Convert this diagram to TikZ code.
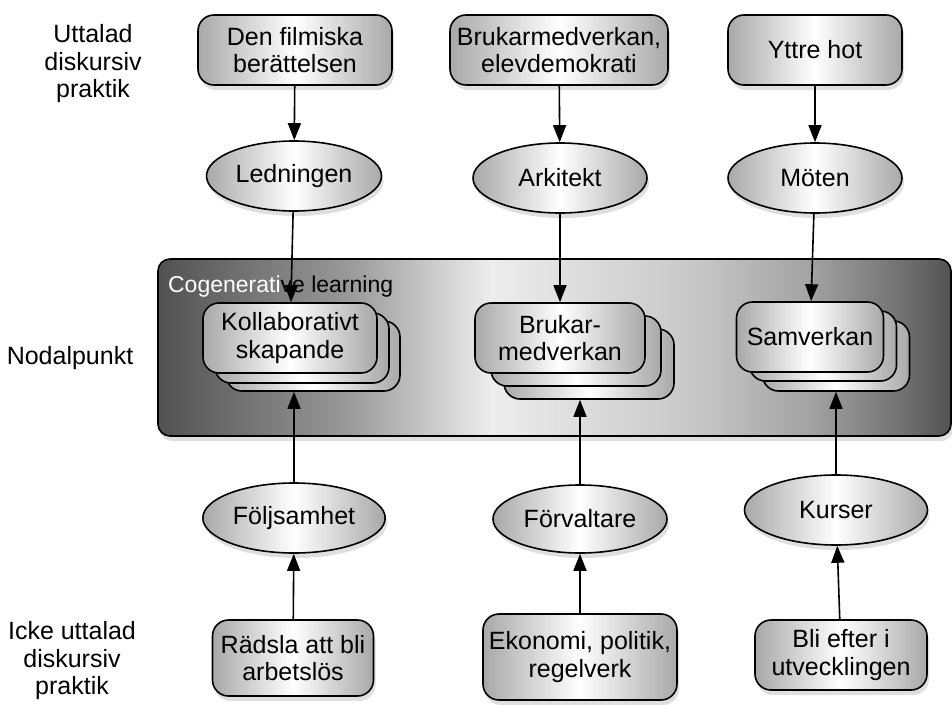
\documentclass[tikz,border=0pt]{standalone}
\usepackage{fontspec}
\setmainfont{Liberation Sans}
\usetikzlibrary{arrows.meta,shapes.geometric,shadows}

\pgfdeclarehorizontalshading{cogen shade}{100bp}{color(0bp)=(black!68); color(25bp)=(black!68);
  color(37bp)=(black!40); color(46bp)=(black!7); color(59bp)=(black!22);
  color(66bp)=(black!36); color(72bp)=(black!56); color(75bp)=(black!68); color(100bp)=(black!68)}

\begin{document}
\begin{tikzpicture}[x=1pt,y=-1pt,->,>={Triangle[length=17pt,width=13pt]},line width=1.6pt,
                    every node/.style={font=\fontsize{25}{27.5}\selectfont,align=center},
                    box shade/.style={left color=black!34,right color=black!34,middle color=white},
                    soft shadow/.style={drop shadow={shadow xshift=2pt,shadow yshift=-5pt,opacity=.25}},
                    cue box/.style={draw,rectangle,rounded corners=16pt,minimum height=70pt,box shade,soft shadow},
                    role node/.style={draw,ellipse,minimum width=175pt,minimum height=70pt,box shade,soft shadow},
                    stack box/.style={draw,rectangle,rounded corners=16pt,minimum height=70pt,box shade},
                    cogen box/.style={draw,rectangle,rounded corners=12pt,shading=cogen shade,soft shadow}]
                    \useasboundingbox (0,0) rectangle (952,704);

                    % row labels
                    \node (uttalad) at (93,64) {Uttalad\\diskursiv\\praktik};
                    \node (nodal) at (70,358) {Nodalpunkt};
                    \node (icke) at (72,661) {Icke uttalad\\diskursiv\\praktik};

                    % upper row
                    \node[cue box,minimum width=194pt] (filmisk) at (295,50) {Den filmiska\\berättelsen};
                    \node[cue box,minimum width=218pt] (brukdemo) at (559,50) {Brukarmedverkan,\\elevdemokrati};
                    \node[cue box,minimum width=174pt] (hot) at (815,50) {Yttre hot};

                    \node[role node] (ledning) at (294,176) {Ledningen};
                    \node[role node,minimum width=174pt] (arkitekt) at (560,178) {Arkitekt};
                    \node[role node,minimum width=174pt] (moten) at (815,178) {Möten};

                    % nodal points
                    \node[cogen box,minimum width=793pt,minimum height=177pt] (cogen) at (554.5,347.5) {};
                    \node[anchor=base west,font=\fontsize{23}{25}\selectfont] (cogenlabel) at (164,292)
                        {\textcolor{white}{Cogenerati}ve learning};

                    \node[stack box,minimum width=174pt] (kollab3) at (313,356) {};
                    \node[stack box,minimum width=174pt] (kollab2) at (302,348) {};
                    \node[stack box,minimum width=174pt] (kollab) at (290,338) {Kollaborativt\\skapande};

                    \node[stack box,minimum width=170pt] (brukmed3) at (589,364) {};
                    \node[stack box,minimum width=170pt] (brukmed2) at (576,351) {};
                    \node[stack box,minimum width=170pt] (brukmed) at (560,338) {Brukar-\\medverkan};

                    \node[stack box,minimum width=147pt] (samverk3) at (836,356) {};
                    \node[stack box,minimum width=147pt] (samverk2) at (823,346) {};
                    \node[stack box,minimum width=147pt] (samverk) at (810,337) {Samverkan};

                    % lower row
                    \node[role node] (folj) at (294,518) {Följsamhet};
                    \node[role node,minimum width=174pt,minimum height=68pt] (forvalt) at (580,519) {Förvaltare};
                    \node[role node,minimum width=183pt] (kurser) at (836,510) {Kurser};

                    \node[cue box,minimum width=161pt,minimum height=76pt] (radsla) at (293,658) {Rädsla att bli\\arbetslös};
                    \node[cue box,minimum width=194pt,minimum height=86pt] (ekonomi) at (580,657) {Ekonomi, politik,\\regelverk};
                    \node[cue box,minimum width=172pt] (efter) at (841,655) {Bli efter i\\utvecklingen};

                    \path
                        (filmisk) edge (ledning)
                        (brukdemo) edge (arkitekt)
                        (hot) edge (moten)

                        (ledning) edge (kollab)
                        (arkitekt) edge (brukmed)
                        (moten) edge (samverk)

                        (folj.north) edge (folj.north |- kollab3.south)
                        (forvalt.north) edge (forvalt.north |- brukmed3.south)
                        (kurser.north) edge (kurser.north |- samverk3.south)

                        (radsla) edge (folj)
                        (ekonomi) edge (forvalt)
                        (efter) edge (kurser)
                        ;
                \end{tikzpicture}
\end{document}
